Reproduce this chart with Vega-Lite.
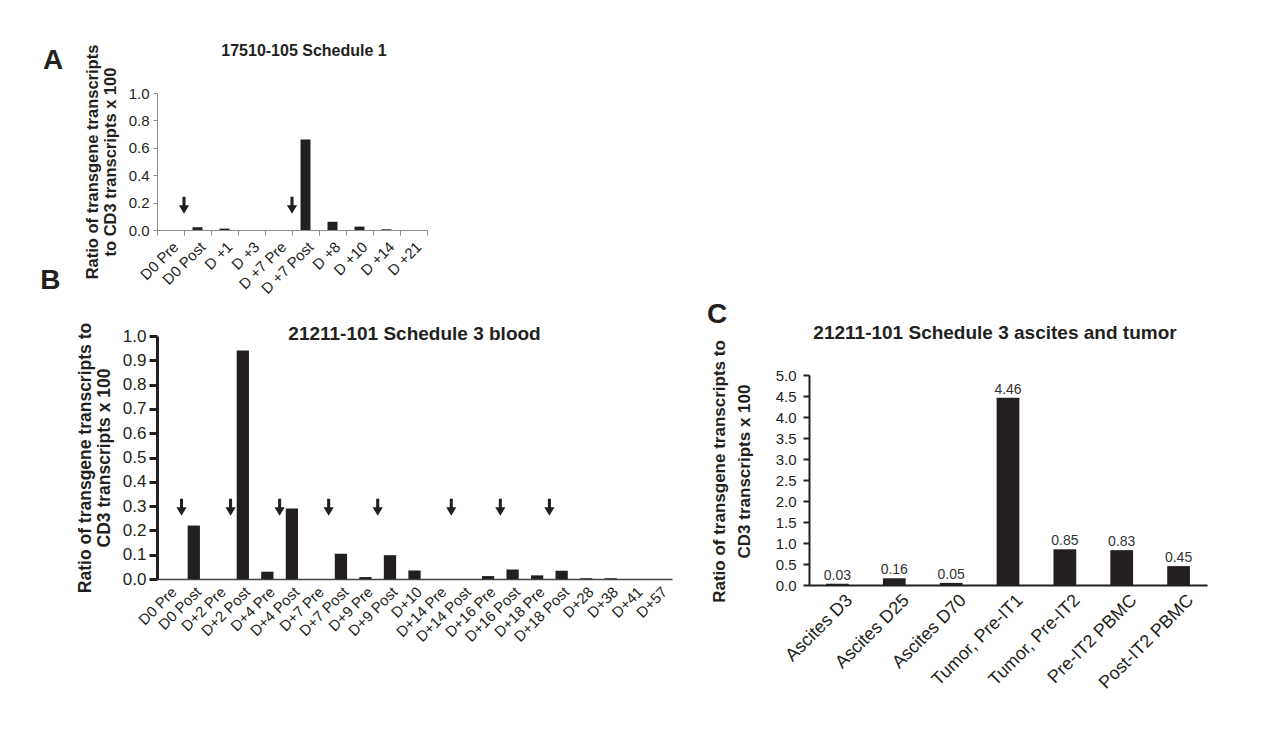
{
  "$schema": "https://vega.github.io/schema/vega-lite/v6.json",
  "padding": {"left": 40, "top": 43, "right": 5, "bottom": 5},
  "background": "white",
  "config": {
    "font": "Liberation Sans",
    "view": {"stroke": null},
    "axis": {"labelColor": "#231f20", "titleColor": "#231f20", "grid": false, "labelFont": "Liberation Sans", "titleFont": "Liberation Sans", "labelOverlap": false},
    "title": {"color": "#231f20", "font": "Liberation Sans"}
  },
  "datasets": {
    "a": [
      {"day": "D0 Pre", "ratio": 0, "dose": false},
      {"day": "D0 Post", "ratio": 0.02, "dose": true},
      {"day": "D +1", "ratio": 0.01, "dose": false},
      {"day": "D +3", "ratio": 0, "dose": false},
      {"day": "D +7 Pre", "ratio": 0, "dose": false},
      {"day": "D +7 Post", "ratio": 0.66, "dose": true},
      {"day": "D +8", "ratio": 0.06, "dose": false},
      {"day": "D +10", "ratio": 0.025, "dose": false},
      {"day": "D +14", "ratio": 0.005, "dose": false},
      {"day": "D +21", "ratio": 0, "dose": false}
    ],
    "b": [
      {"day": "D0 Pre", "ratio": 0, "dose": false},
      {"day": "D0 Post", "ratio": 0.22, "dose": true},
      {"day": "D+2 Pre", "ratio": 0, "dose": false},
      {"day": "D+2 Post", "ratio": 0.94, "dose": true},
      {"day": "D+4 Pre", "ratio": 0.03, "dose": false},
      {"day": "D+4 Post", "ratio": 0.29, "dose": true},
      {"day": "D+7 Pre", "ratio": 0, "dose": false},
      {"day": "D+7 Post", "ratio": 0.104, "dose": true},
      {"day": "D+9 Pre", "ratio": 0.008, "dose": false},
      {"day": "D+9 Post", "ratio": 0.098, "dose": true},
      {"day": "D+10", "ratio": 0.035, "dose": false},
      {"day": "D+14 Pre", "ratio": 0, "dose": false},
      {"day": "D+14 Post", "ratio": 0, "dose": true},
      {"day": "D+16 Pre", "ratio": 0.012, "dose": false},
      {"day": "D+16 Post", "ratio": 0.039, "dose": true},
      {"day": "D+18 Pre", "ratio": 0.015, "dose": false},
      {"day": "D+18 Post", "ratio": 0.034, "dose": true},
      {"day": "D+28", "ratio": 0.003, "dose": false},
      {"day": "D+38", "ratio": 0.003, "dose": false},
      {"day": "D+41", "ratio": 0, "dose": false},
      {"day": "D+57", "ratio": 0, "dose": false}
    ],
    "c": [
      {"sample": "Ascites D3", "ratio": 0.03},
      {"sample": "Ascites D25", "ratio": 0.16},
      {"sample": "Ascites D70", "ratio": 0.05},
      {"sample": "Tumor, Pre-IT1", "ratio": 4.46},
      {"sample": "Tumor, Pre-IT2", "ratio": 0.85},
      {"sample": "Pre-IT2 PBMC", "ratio": 0.83},
      {"sample": "Post-IT2 PBMC", "ratio": 0.45}
    ]
  },
  "bounds": "flush",
  "spacing": 243,
  "vconcat": [
    {
      "bounds": "flush",
      "title": {"text": "A", "orient": "left", "angle": 0, "align": "left", "baseline": "alphabetic", "anchor": "end", "frame": "group", "fontSize": 28, "fontWeight": "bold", "offset": 21, "dy": -24},
      "vconcat": [
        {
          "width": 270,
          "height": 137,
          "data": {"name": "a"},
          "title": {"text": "17510-105 Schedule 1", "fontSize": 16, "fontWeight": "bold", "anchor": "middle", "frame": "group", "baseline": "alphabetic", "offset": -28, "dx": 12},
          "layer": [
            {
              "mark": {"type": "bar", "color": "#231f20", "width": {"band": 0.37}},
              "encoding": {
                "x": {"field": "day", "type": "nominal", "sort": null, "scale": {"paddingInner": 0, "paddingOuter": 0},
                  "axis": {"title": null, "labelAngle": -45, "labelFontSize": 15, "labelPadding": 4, "domainColor": "#8c8c8c", "tickColor": "#8c8c8c", "tickBand": "extent", "tickSize": 5, "labelOverlap": false}},
                "y": {"field": "ratio", "type": "quantitative", "scale": {"domain": [0, 1]},
                  "axis": {"values": [0, 0.2, 0.4, 0.6, 0.8, 1.0], "format": ".1f", "labelOverlap": false, "labelFontSize": 15, "tickSize": 4, "labelPadding": 4, "domainColor": "#8c8c8c", "tickColor": "#8c8c8c",
                    "title": ["Ratio of transgene transcripts", "to CD3 transcripts x 100"], "titleFontSize": 16.5, "titleFontWeight": "bold", "titleLineHeight": 18, "titlePadding": 10}}
              }
            },
            {
              "transform": [{"filter": "datum.dose"}],
              "mark": {"type": "point", "shape": "M-0.18,-1L0.18,-1L0.18,0L0.6,0L0,1L-0.6,0L-0.18,0Z", "filled": true, "size": 289, "color": "#231f20", "opacity": 1, "strokeWidth": 0},
              "encoding": {
                "x": {"field": "day", "type": "nominal", "sort": null, "bandPosition": 0},
                "y": {"datum": 0.18, "type": "quantitative",
                  "axis": {"values": [0, 0.2, 0.4, 0.6, 0.8, 1.0], "format": ".1f", "labelOverlap": false, "labelFontSize": 15, "tickSize": 4, "labelPadding": 4, "domainColor": "#8c8c8c", "tickColor": "#8c8c8c",
                    "title": ["Ratio of transgene transcripts", "to CD3 transcripts x 100"], "titleFontSize": 16.5, "titleFontWeight": "bold", "titleLineHeight": 18, "titlePadding": 10}}
              }
            }
          ]
        }
      ]
    },
    {
      "bounds": "flush",
      "spacing": 652,
      "hconcat": [
        {
          "bounds": "flush",
          "title": {"text": "B", "orient": "left", "angle": 0, "align": "left", "baseline": "alphabetic", "anchor": "end", "frame": "group", "fontSize": 28, "fontWeight": "bold", "offset": 16, "dy": -47},
          "vconcat": [
            {
              "width": 515,
              "height": 243,
              "data": {"name": "b"},
              "title": {"text": "21211-101 Schedule 3 blood", "fontSize": 19, "fontWeight": "bold", "anchor": "middle", "frame": "group", "baseline": "alphabetic", "offset": -37, "dx": 0},
              "layer": [
                {
                  "mark": {"type": "bar", "color": "#231f20", "width": {"band": 0.5}},
                  "encoding": {
                    "x": {"field": "day", "type": "nominal", "sort": null, "scale": {"paddingInner": 0, "paddingOuter": 0},
                      "axis": {"title": null, "labelAngle": -45, "labelFontSize": 15, "labelPadding": 5, "ticks": false, "domainWidth": 1.5, "domainColor": "#444444", "labelOverlap": false}},
                    "y": {"field": "ratio", "type": "quantitative", "scale": {"domain": [0, 1]},
                      "axis": {"values": [0, 0.1, 0.2, 0.3, 0.4, 0.5, 0.6, 0.7, 0.8, 0.9, 1.0], "format": ".1f", "labelOverlap": false, "labelFontSize": 17, "tickSize": 8, "tickWidth": 3, "labelPadding": 3, "domainWidth": 3, "domainColor": "#231f20", "tickColor": "#231f20",
                        "title": ["Ratio of transgene transcripts to", "CD3 transcripts x 100"], "titleFontSize": 17.5, "titleFontWeight": "bold", "titleLineHeight": 19, "titlePadding": 9}}
                  }
                },
                {
                  "transform": [{"filter": "datum.dose"}],
                  "mark": {"type": "point", "shape": "M-0.18,-1L0.18,-1L0.18,0L0.6,0L0,1L-0.6,0L-0.18,0Z", "filled": true, "size": 289, "color": "#231f20", "opacity": 1, "strokeWidth": 0},
                  "encoding": {
                    "x": {"field": "day", "type": "nominal", "sort": null, "bandPosition": 0},
                    "y": {"datum": 0.295, "type": "quantitative",
                      "axis": {"values": [0, 0.1, 0.2, 0.3, 0.4, 0.5, 0.6, 0.7, 0.8, 0.9, 1.0], "format": ".1f", "labelOverlap": false, "labelFontSize": 17, "tickSize": 8, "tickWidth": 3, "labelPadding": 3, "domainWidth": 3, "domainColor": "#231f20", "tickColor": "#231f20",
                        "title": ["Ratio of transgene transcripts to", "CD3 transcripts x 100"], "titleFontSize": 17.5, "titleFontWeight": "bold", "titleLineHeight": 19, "titlePadding": 9}}
                  }
                }
              ]
            }
          ]
        },
        {
          "bounds": "flush",
          "title": {"text": "C", "orient": "left", "angle": 0, "align": "left", "baseline": "alphabetic", "anchor": "end", "frame": "group", "fontSize": 28, "fontWeight": "bold", "offset": -17, "dy": -13},
          "vconcat": [
            {
              "width": 398,
              "height": 249,
              "data": {"name": "c"},
              "title": {"text": "21211-101 Schedule 3 ascites and tumor", "fontSize": 19, "fontWeight": "bold", "anchor": "middle", "frame": "group", "baseline": "alphabetic", "offset": -22, "dx": -13},
              "encoding": {
                "x": {"field": "sample", "type": "nominal", "sort": null, "scale": {"paddingInner": 0, "paddingOuter": 0},
                  "axis": {"title": null, "labelAngle": -45, "labelFontSize": 18, "labelPadding": 6, "labelOffset": 6, "ticks": false, "domainWidth": 2, "domainColor": "#231f20", "labelOverlap": false}},
                "y": {"field": "ratio", "type": "quantitative", "scale": {"domain": [0, 5], "range": [249, 39]},
                  "axis": {"values": [0, 0.5, 1, 1.5, 2, 2.5, 3, 3.5, 4, 4.5, 5], "format": ".1f", "labelOverlap": false, "labelFontSize": 15, "tickSize": 6, "tickWidth": 2, "labelPadding": 7, "domainWidth": 2, "domainColor": "#231f20", "tickColor": "#231f20",
                    "title": ["Ratio of transgene transcripts to", "CD3 transcripts x 100"], "titleFontSize": 17, "titleFontWeight": "bold", "titleLineHeight": 25, "titlePadding": 22, "titleY": 135}}
              },
              "layer": [
                {"mark": {"type": "bar", "color": "#231f20", "width": {"band": 0.4}}},
                {"mark": {"type": "text", "dy": -4, "baseline": "alphabetic", "fontSize": 14, "color": "#333333"},
                  "encoding": {"text": {"field": "ratio", "type": "quantitative", "format": ".2f"}}}
              ]
            }
          ]
        }
      ]
    }
  ]
}
